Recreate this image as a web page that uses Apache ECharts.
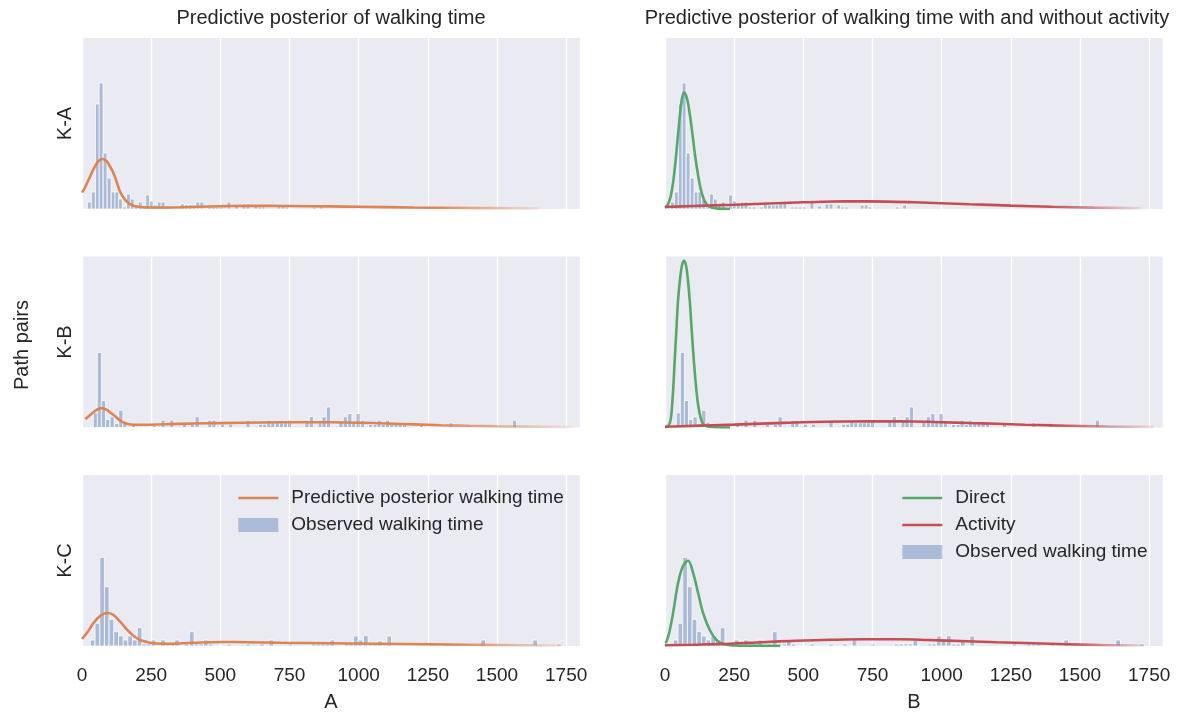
<!DOCTYPE html>
<html>
<head>
<meta charset="utf-8">
<script src="https://cdn.jsdelivr.net/npm/echarts@6/dist/echarts.min.js"></script>
<style>html,body{margin:0;padding:0;background:#fff}#chart{width:1194px;height:715px}</style>
</head>
<body>
<div id="chart"></div>
<script>
// ---------------- DATA (heights, in panel-height units: panel = 171) ----------------
const PAIRS = ['K-A', 'K-B', 'K-C'];
const TITLES = ['Predictive posterior of walking time', 'Predictive posterior of walking time with and without activity'];
const X_TICKS = [0, 250, 500, 750, 1000, 1250, 1500, 1750];
const X_NAMES = ['A', 'B'];
const Y_LABEL = 'Path pairs';

// observed walking time histograms (bin centres, bar heights)
const obsKA_x = [26.6,41.1,55.6,69.0,83.5,98.0,112.5,125.8,139.1,153.6,168.1,181.5,196.0,210.5,237.1,250.4,264.9,279.4,292.7,307.3,321.8,349.6,362.9,377.4,391.9,405.2,418.5,433.0,460.9,475.4,488.7,503.2,531.0,558.9,585.5,600.0,627.8,642.3,655.6,712.5,727.0,740.3,839.5,866.1];
const obsKA_h = [7,17,105,126,56,31,17,17,10,2,15,10,4,7,14,8,4,7,7,2,2,2,5,4,4,4,7,7,2,2,2,2,7,3,5,5,4,2,2,4,4,2,2,4];
const obsKB_x = [48.4,62.9,77.4,93.1,108.9,125.8,140.3,154.8,169.3,186.3,200.8,215.3,229.8,261.3,278.2,292.8,324.2,353.2,370.2,399.2,416.1,462.1,476.6,491.1,508.1,537.1,600,629,646,660.5,675,689.5,706.4,721,735.5,750,766.9,812.9,829,861,875,891,907,922,936,952,968,982,998,1014,1028,1043,1060,1074,1089,1104,1120,1135,1150,1166,1227,1333,1563];
const obsKB_h = [14.7,75,27,8,10.7,4,17.3,5.3,1.3,2,1.3,1.3,1.3,2,1.3,7.3,7.3,1.3,3.3,3.3,10.7,7.3,7.3,1.3,3.3,3.3,7.3,1.3,3.3,3.3,7.3,4.7,4.7,4.7,4.7,7.3,1.3,7.3,11,7.3,10.7,20.5,1.3,1.3,5.3,10.7,14,5.7,14,7.3,1.3,3,3,7.3,3,7.3,4,4,4,4,4,4.7,7.3];
const obsKC_x = [38.7,55.6,72.6,89.5,106.4,123.4,140.3,157.3,174.2,191.1,208.1,225,241.9,258.9,292.7,309.7,326.6,343.6,377.4,396.8,413.7,430.7,447.6,464.5,532.3,600,650.8,684.7,752.4,837.1,854,871,888,905,956,972.6,989.5,1006.5,1025.8,1042.7,1059.7,1076.6,1110.5,1262.9,1316,1333,1350,1400.8,1450,1637.9,1723.5];
const obsKC_h = [6,22.7,88.7,59.3,26.7,14.3,10,6,10,6,18.3,2,2,6,6,2,2,6,2,14.3,2,2,6,2,2,2,2,6,2,2,2,2,2,6,2,2,10,6,10.3,2,2,5,10,2,2,2,2,2,6,6,2];
const BIN_W = [14.0, 15.0, 16.9];

// predictive posterior (left column)
const predKA_x = [0,10,20,30,40,50,60,74,90,100,114,125,138,150,162,175,190,210,250,350,500,600,750,900,1000,1200,1400,1550,1650];
const predKA_y = [16.5,21,27,33,39,44,48,50,47.5,43,35.7,27.5,17,11.5,7.3,4.6,2.9,2.0,1.5,1.8,2.8,3.2,3.0,2.6,2.2,1.5,1.0,0.7,0.4];
const predKB_x = [12,25,40,55,71,85,100,112,125,140,155,170,200,300,400,500,650,800,900,1000,1100,1200,1300,1400,1500,1650,1770];
const predKB_y = [8.5,11.5,15,18,19.3,18.3,15.5,13,10,6.5,4.5,3.3,2.7,3.3,4.0,4.4,5.0,5.3,5.2,4.8,4.0,3.1,2.3,1.7,1.2,0.7,0.4];
const predKC_x = [0,20,41,65,92,114,138,162,186,210,235,259,307,400,507,600,718,900,1050,1263,1400,1505,1650,1735];
const predKC_y = [7,14,22.7,30,33.3,31,24.3,16.7,10.3,6,4,2.7,2.3,3.2,4,3.8,3.3,2.7,2.3,1.7,1.3,1.0,0.6,0.4];

// direct (right column)
const directKA_x = [0,10,20,30,40,50,60,69,80,90,100,110,120,130,140,150,160,175,190,210,235];
const directKA_y = [1.3,4.4,12,28,53,83,108,116.7,110,94,73,51,33,19,10,5,2.5,1,0.4,0.1,0];
const directKB_x = [0,10,18,23,30,35,41,47,55,62,69,76,83,89.5,96,101.6,108,113.7,120,125.8,132,138,150,162,180,235];
const directKB_y = [0.2,1,5,13.4,40,66.7,97,126.7,150,163,166.7,162,147,126.7,100,76.7,54,36.7,22,13.4,7,3.4,1.5,0.7,0.2,0];
const directKC_x = [0,5,15,29,47,65,83.5,102,120,138,162,186,210,235,300,416];
const directKC_y = [3.5,4.3,13,32.7,62.7,80,85.3,72.7,52.7,32.7,16,6,2,0.7,0.2,0];

// activity (right column)
const actKA_x = [0,100,250,400,500,650,800,900,1000,1100,1250,1400,1550,1720];
const actKA_y = [2,3,4.3,5.8,6.7,7.7,7.4,6.7,5.8,4.8,3.4,2.2,1.4,0.8];
const actKB_x = [0,100,250,400,500,650,800,900,1000,1100,1200,1300,1400,1500,1600,1767];
const actKB_y = [0.7,1.6,2.9,4.4,5.3,6.0,6.2,6.0,5.3,4.5,3.7,2.8,2.1,1.5,1.0,0.5];
const actKC_x = [0,100,235,350,476,600,718,850,950,1091,1200,1333,1450,1575,1732];
const actKC_y = [0.7,1.3,2.3,3.8,5.3,6.2,6.7,6.7,6.0,4.7,3.7,2.7,1.8,1.0,0.5];

// ---------------- STYLE / LAYOUT ----------------
const FONT = '"Liberation Sans", Arial, sans-serif';
const TXT = '#262626';
const BG = '#EAEAF2';
const BAR = 'rgba(76,114,176,0.4)';
const ORANGE = '#DD8452', GREEN = '#55A868', RED = '#C44E52';
const Y_MAX = 171;
const COL_LEFT = [82, 665];
const GRID_W = 498, GRID_H = 171;
const ROW_TOP = [38, 256.5, 475];
const TITLE_X = [331, 907];
const LINE_W = 2.6;
const F_TITLE = 20, F_LABEL = 20, F_TICK = 19, F_LEGEND = 19;

const obs = [[obsKA_x, obsKA_h], [obsKB_x, obsKB_h], [obsKC_x, obsKC_h]];
const pred = [[predKA_x, predKA_y], [predKB_x, predKB_y], [predKC_x, predKC_y]];
const direct = [[directKA_x, directKA_y], [directKB_x, directKB_y], [directKC_x, directKC_y]];
const act = [[actKA_x, actKA_y], [actKB_x, actKB_y], [actKC_x, actKC_y]];
const FADE_PRED = [0.76, 0.71, 0.76];
const FADE_ACT = [0.8, 0.79, 0.84];

function zip(xs, ys) { return xs.map((x, i) => [x, ys[i]]); }
function rgba(hex, a) {
  const n = parseInt(hex.slice(1), 16);
  return 'rgba(' + (n >> 16) + ',' + ((n >> 8) & 255) + ',' + (n & 255) + ',' + a + ')';
}
function fade(c, f) {
  if (f == null) return c;
  return new echarts.graphic.LinearGradient(0, 0, 1, 0, [
    { offset: 0, color: c }, { offset: f, color: c }, { offset: 1, color: rgba(c, 0.12) }
  ]);
}

const grids = [], xAxes = [], yAxes = [], series = [];
for (let r = 0; r < 3; r++) {
  for (let c = 0; c < 2; c++) {
    const idx = r * 2 + c;
    grids.push({ left: COL_LEFT[c], top: ROW_TOP[r], width: GRID_W, height: GRID_H,
      show: true, backgroundColor: BG, borderWidth: 0 });
    xAxes.push({
      gridIndex: idx, type: 'value', min: 0, max: 1800, interval: 250,
      axisLine: { show: false }, axisTick: { show: false },
      splitLine: { show: true, lineStyle: { color: '#ffffff', width: 1.4 } },
      axisLabel: { show: r === 2, fontSize: F_TICK, color: TXT, fontFamily: FONT, margin: 20,
        formatter: v => (X_TICKS.indexOf(v) >= 0 ? String(v) : '') },
      name: r === 2 ? X_NAMES[c] : '', nameLocation: 'middle', nameGap: 46,
      nameTextStyle: { fontSize: F_LABEL, color: TXT, fontFamily: FONT }
    });
    yAxes.push({
      gridIndex: idx, type: 'value', min: 0, max: Y_MAX,
      axisLine: { show: false }, axisTick: { show: false }, axisLabel: { show: false },
      splitLine: { show: false },
      name: c === 0 ? PAIRS[r] : '', nameLocation: 'middle', nameRotate: 90, nameGap: 7,
      nameTextStyle: { fontSize: F_LABEL, color: TXT, fontFamily: FONT }
    });
    const bw = BIN_W[r];
    series.push({
      type: 'custom', name: 'Observed walking time', xAxisIndex: idx, yAxisIndex: idx,
      data: zip(obs[r][0], obs[r][1]), encode: { x: 0, y: 1 },
      itemStyle: { color: BAR }, silent: true, animation: false, z: 1,
      renderItem: function (params, api) {
        const x = api.value(0), h = api.value(1);
        const a = api.coord([x - bw / 2, h]);
        const b = api.coord([x + bw / 2, 0]);
        return { type: 'rect', shape: { x: a[0], y: a[1], width: b[0] - a[0], height: b[1] - a[1] },
          style: { fill: BAR, stroke: 'rgba(255,255,255,0.75)', lineWidth: 1 } };
      }
    });
    const lines = c === 0
      ? [['Predictive posterior walking time', pred[r], ORANGE, FADE_PRED[r]]]
      : [['Direct', direct[r], GREEN, null], ['Activity', act[r], RED, FADE_ACT[r]]];
    lines.forEach(([name, d, col, f]) => {
      series.push({
        type: 'line', name: name, xAxisIndex: idx, yAxisIndex: idx,
        data: zip(d[0], d[1]), symbol: 'none', showSymbol: false, smooth: 0.35,
        lineStyle: { width: LINE_W, color: fade(col, f) }, itemStyle: { color: col },
        silent: true, animation: false, z: 3
      });
    });
  }
}

const legendText = { fontSize: F_LEGEND, color: TXT, fontFamily: FONT, padding: [0, 0, 0, 8], lineHeight: 20 };
function lineItem(name, col) {
  return { name: name, lineStyle: { color: col, width: LINE_W }, itemStyle: { color: col, opacity: 0, borderWidth: 0 } };
}
const barItem = { name: 'Observed walking time', icon: 'rect', itemStyle: { color: BAR, borderWidth: 0 } };
const legends = [
  { left: 232, top: 483, orient: 'vertical', itemWidth: 40, itemHeight: 14, itemGap: 7, selectedMode: false,
    textStyle: legendText,
    data: [lineItem('Predictive posterior walking time', ORANGE), barItem] },
  { left: 896, top: 483, orient: 'vertical', itemWidth: 40, itemHeight: 14, itemGap: 7, selectedMode: false,
    textStyle: legendText,
    data: [lineItem('Direct', GREEN), lineItem('Activity', RED), barItem] }
];

const chart = echarts.init(document.getElementById('chart'), null, { renderer: 'canvas' });
chart.setOption({
  backgroundColor: '#ffffff',
  animation: false,
  grid: grids, xAxis: xAxes, yAxis: yAxes, series: series, legend: legends,
  graphic: [
    { type: 'text', x: TITLE_X[0], y: 18,
      style: { text: TITLES[0], font: F_TITLE + 'px ' + FONT, fill: TXT, align: 'center', verticalAlign: 'middle' } },
    { type: 'text', x: TITLE_X[1], y: 18,
      style: { text: TITLES[1], font: F_TITLE + 'px ' + FONT, fill: TXT, align: 'center', verticalAlign: 'middle' } },
    { type: 'text', x: 22, y: 345, rotation: Math.PI / 2,
      style: { text: Y_LABEL, font: F_LABEL + 'px ' + FONT, fill: TXT, align: 'center', verticalAlign: 'middle' } }
  ]
});
</script>
</body>
</html>
